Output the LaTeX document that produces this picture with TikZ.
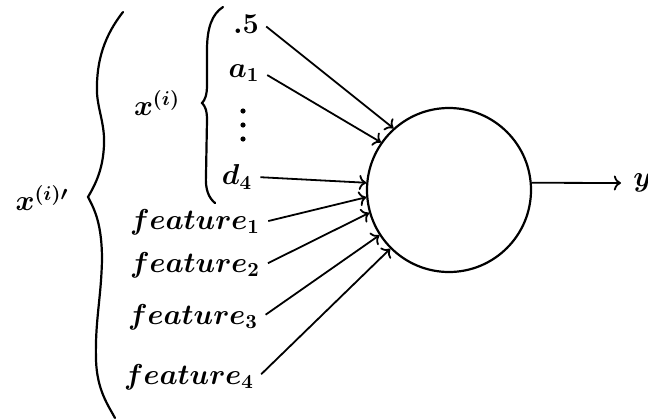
\documentclass[tikz,border=0pt]{standalone}
\usepackage{amsmath, amssymb}
\usetikzlibrary{arrows.meta, positioning}

\begin{document}
\begin{tikzpicture}[x=0.5pt,y=-0.5pt,
		lbl/.style={font=\Large\boldmath,inner sep=2pt},
		inarrow/.style={->,line width=0.9pt,shorten <=2pt}]
	\useasboundingbox (0,0) rectangle (648,418);
	% neuron
	\node[draw,circle,line width=1.1pt,minimum size=82pt] (neuron) at (449,190) {};
	% inputs
	\node[lbl] (n5) at (246,24) {$.5$};
	\node[lbl] (a1) at (244,73) {$a_1$};
	\fill (243,111) circle (2.6) (243,125) circle (2.6) (243,139) circle (2.6);
	\node[lbl] (d4) at (237,177) {$d_4$};
	\node[lbl] (feat1) at (195,222) {$feature_1$};
	\node[lbl] (feat2) at (195,265) {$feature_2$};
	\node[lbl] (feat3) at (193,317) {$feature_3$};
	\node[lbl] (feat4) at (189,377) {$feature_4$};
	% output
	\node[lbl,anchor=west,inner xsep=6pt] (yout) at (621,183) {$y$};
	% vector labels
	\node[lbl] (xi) at (157,103) {$x^{(i)}$};
	\node[lbl] (xip) at (42,198) {$x^{(i)\prime}$};
	% braces
	\draw[line width=1.1pt,line cap=round] (223,7) .. controls (212,14) and (207,28) .. (207,50)
		-- (207,85) .. controls (207,95) and (205,100) .. (202,103)
		.. controls (205,106) and (207,110) .. (207,120)
		-- (206,175) .. controls (205,190) and (209,198) .. (215,203);
	\draw[line width=1.1pt,line cap=round] (123,12) .. controls (105,35) and (96,60) .. (97,93)
		.. controls (98,110) and (105,125) .. (104,145)
		.. controls (103,170) and (95,185) .. (88,197)
		.. controls (95,210) and (102,225) .. (102,260)
		.. controls (101,300) and (95,320) .. (96,360)
		.. controls (97,390) and (108,405) .. (115,418);
	% connections
	\draw[inarrow] (n5.east) -- (neuron.132);
	\draw[inarrow] (a1.east) -- (neuron.145);
	\draw[inarrow] (d4.east) -- (neuron.175);
	\draw[inarrow] (feat1.east) -- (neuron.185);
	\draw[inarrow] (feat2.east) -- (neuron.196);
	\draw[inarrow] (feat3.east) -- (neuron.213);
	\draw[inarrow] (feat4.east) -- (neuron.225);
	\draw[->,line width=0.9pt] (neuron.5) -- (yout.west);
\end{tikzpicture}
\end{document}
